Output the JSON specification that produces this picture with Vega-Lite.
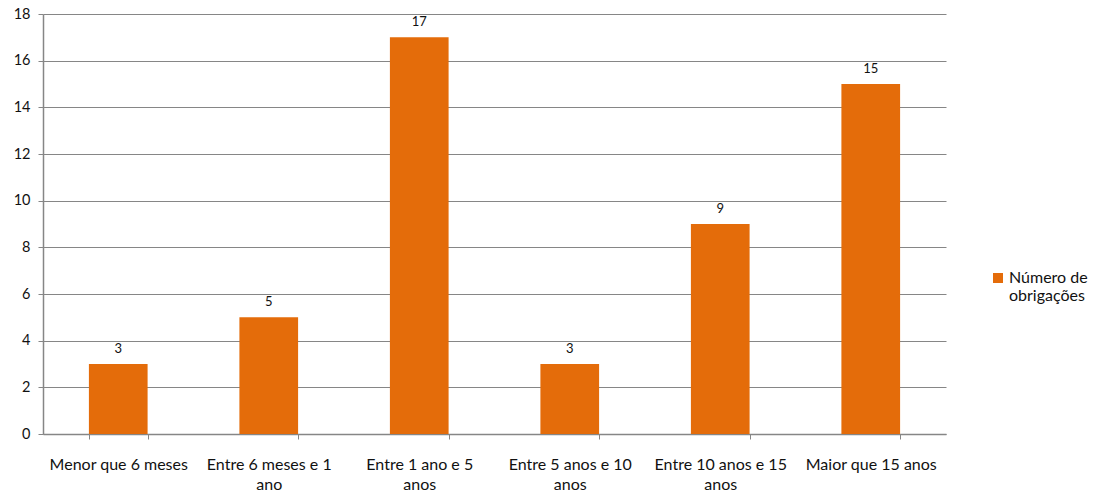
{
  "$schema": "https://vega.github.io/schema/vega-lite/v6.json",
  "autosize": "none",
  "width": 903,
  "height": 420,
  "padding": {"left": 43, "top": 14, "right": 153, "bottom": 61},
  "background": "white",
  "config": {
    "font": "Lato",
    "view": {"stroke": null},
    "axis": {"labelFont": "Lato", "labelColor": "#111", "domainColor": "#868686", "tickColor": "#868686", "gridColor": "#868686"}
  },
  "data": {
    "values": [
      {"prazo": "Menor que 6 meses", "serie": "Número de obrigações", "n": 3},
      {"prazo": "Entre 6 meses e 1 ano", "serie": "Número de obrigações", "n": 5},
      {"prazo": "Entre 1 ano e 5 anos", "serie": "Número de obrigações", "n": 17},
      {"prazo": "Entre 5 anos e 10 anos", "serie": "Número de obrigações", "n": 3},
      {"prazo": "Entre 10 anos e 15 anos", "serie": "Número de obrigações", "n": 9},
      {"prazo": "Maior que 15 anos", "serie": "Número de obrigações", "n": 15}
    ]
  },
  "encoding": {
    "x": {
      "field": "prazo",
      "type": "nominal",
      "sort": null,
      "title": null,
      "scale": {"paddingInner": 0.61, "paddingOuter": 0.305},
      "axis": {
        "labelAngle": 0,
        "labelFontSize": 16,
        "labelPadding": 17,
        "labelLineHeight": 20,
        "labelLimit": 200,
        "tickBand": "extent",
        "tickSize": 5,
        "domainWidth": 1.5,
        "labelExpr": "datum.value == 'Entre 6 meses e 1 ano' ? ['Entre 6 meses e 1', 'ano'] : datum.value == 'Entre 1 ano e 5 anos' ? ['Entre 1 ano e 5', 'anos'] : datum.value == 'Entre 5 anos e 10 anos' ? ['Entre 5 anos e 10', 'anos'] : datum.value == 'Entre 10 anos e 15 anos' ? ['Entre 10 anos e 15', 'anos'] : datum.value"
      }
    },
    "y": {
      "field": "n",
      "type": "quantitative",
      "title": null,
      "scale": {"domain": [0, 18], "nice": false},
      "axis": {
        "values": [0, 2, 4, 6, 8, 10, 12, 14, 16, 18],
        "labelFontSize": 14.5,
        "labelPadding": 8,
        "tickSize": 5,
        "domainWidth": 1.5,
        "grid": true
      }
    }
  },
  "layer": [
    {
      "mark": {"type": "bar", "color": "#E46C0A"},
      "encoding": {
        "color": {
          "field": "serie",
          "type": "nominal",
          "scale": {"range": ["#E46C0A"]},
          "legend": {
            "title": null,
            "orient": "none",
            "legendX": 947,
            "legendY": 256,
            "symbolType": "square",
            "symbolSize": 100,
            "symbolStrokeWidth": 0,
            "labelFontSize": 16,
            "labelFont": "Lato",
            "labelColor": "#111",
            "labelLimit": 200,
            "labelOffset": 3,
            "labelLineHeight": 20,
            "labelExpr": "['Número de', 'obrigações']"
          }
        }
      }
    },
    {
      "mark": {"type": "text", "baseline": "bottom", "dy": -8, "fontSize": 13, "color": "#111"},
      "encoding": {"text": {"field": "n", "type": "quantitative"}}
    }
  ]
}
